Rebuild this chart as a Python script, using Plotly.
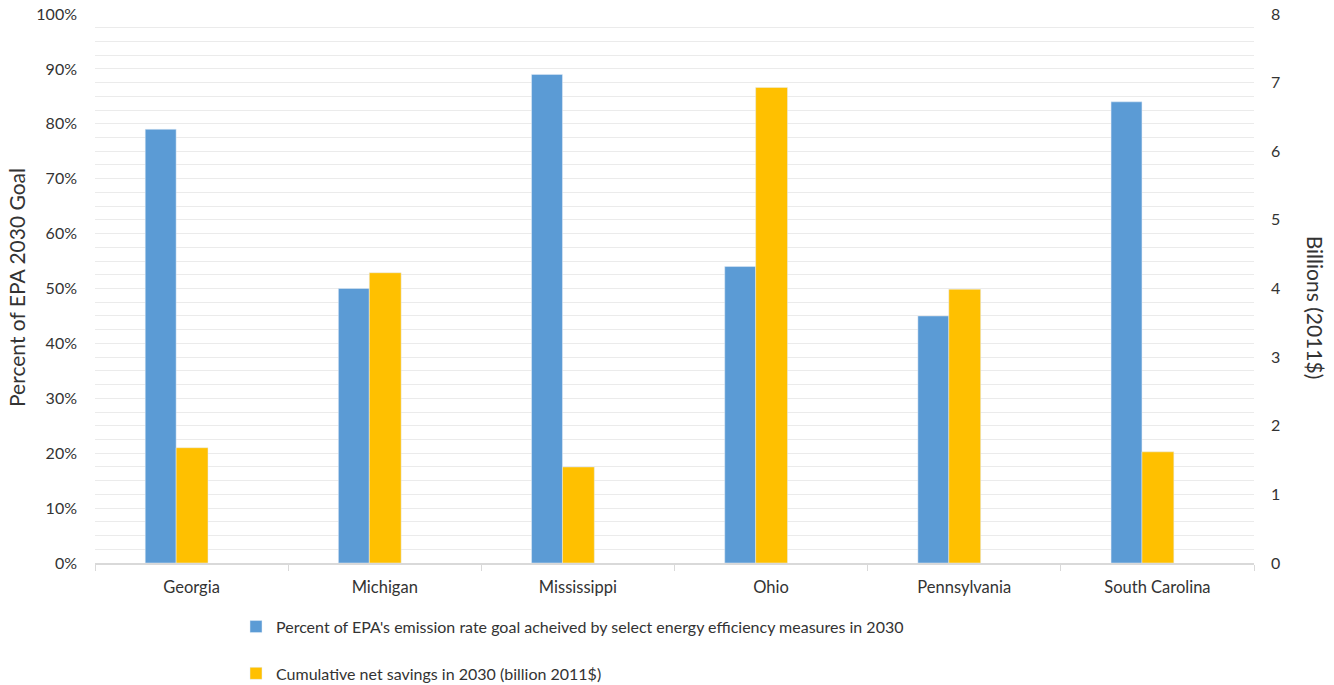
import plotly.graph_objects as go

states = ["Georgia", "Michigan", "Mississippi", "Ohio", "Pennsylvania", "South Carolina"]
pct_goal = [0.79, 0.50, 0.89, 0.54, 0.45, 0.84]
savings_billion = [1.68, 4.23, 1.40, 6.93, 3.99, 1.62]
name_pct = "Percent of EPA's emission rate goal acheived by select energy efficiency measures in 2030"
name_sav = "Cumulative net savings in 2030 (billion 2011$)"

FONT = "Lato"
TXT = "#333333"

fig = go.Figure()
fig.add_trace(go.Bar(
    x=states, y=pct_goal, name=name_pct, marker_color="#5B9BD5",
    offset=-0.24, width=0.16, yaxis="y", legendgroup="a",
))
fig.add_trace(go.Bar(
    x=states, y=savings_billion, name=name_sav, marker_color="#FFC000",
    offset=-0.08, width=0.165, yaxis="y2", legendgroup="b",
))

fig.update_layout(
    width=1334, height=685,
    margin=dict(l=95, r=80, t=14, b=122, autoexpand=False),
    paper_bgcolor="white", plot_bgcolor="white",
    font=dict(family=FONT, size=16, color=TXT),
    barmode="overlay",
    showlegend=True,
    legend=dict(
        x=236 / 1334, xref="container", y=0.11, yref="container",
        xanchor="left", yanchor="top",
        font=dict(size=16, color=TXT), traceorder="grouped",
        tracegroupgap=23, itemwidth=30,
    ),
    xaxis=dict(
        type="category", tickson="boundaries", ticks="outside", ticklen=6,
        tickcolor="#d9d9d9", showline=True, linecolor="#d9d9d9", linewidth=1.5,
        showgrid=False, tickfont=dict(size=16.5, color=TXT),
        range=[-0.5, 5.5], ticklabelstandoff=8,
    ),
    yaxis=dict(
        range=[0, 1.0], dtick=0.1, tickformat=".0%", showgrid=True,
        gridcolor="#ebebeb", gridwidth=1, zeroline=False,
        minor=dict(dtick=0.025, showgrid=True, gridcolor="#ebebeb", gridwidth=1),
        ticklabelstandoff=17, tickfont=dict(size=16, color=TXT),
    ),
    yaxis2=dict(
        range=[0, 8], dtick=1, overlaying="y", side="right", showgrid=False,
        zeroline=False, ticklabelstandoff=16, tickfont=dict(size=16, color=TXT),
    ),
    annotations=[
        dict(
            text="Billions (2011$)", textangle=90, xref="paper", yref="paper",
            x=1.0, xshift=61, y=0.465, showarrow=False, xanchor="center", yanchor="middle",
            font=dict(size=21, color=TXT),
        ),
        dict(
            text="Percent of EPA 2030 Goal", textangle=-90, xref="paper", yref="paper",
            x=0.0, xshift=-78, y=0.501, showarrow=False, xanchor="center", yanchor="middle",
            font=dict(size=21, color=TXT),
        ),
    ],
)

fig.write_html("out.html")
